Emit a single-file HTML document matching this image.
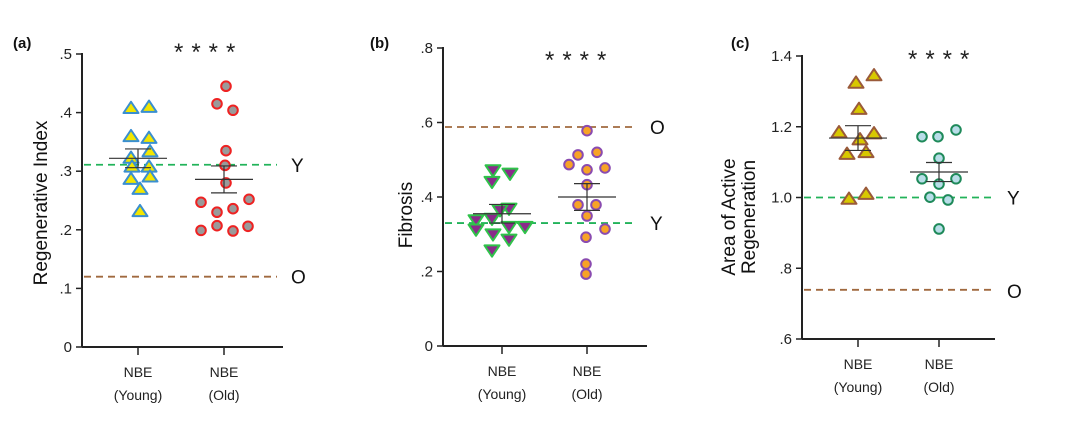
<!DOCTYPE html>
<html><head><meta charset="utf-8">
<style>
body{margin:0;background:#fff;}
svg{display:block;font-family:"Liberation Sans",sans-serif;}
</style></head>
<body>
<svg id="fig" width="1068" height="435" viewBox="0 0 1068 435"></svg>
<script>
// ---- Panel (a) data: Regenerative Index ----
const catsA = ["NBE|(Young)", "NBE|(Old)"];
const youngA = [.407,.409,.359,.356,.333,.322,.307,.307,.286,.290,.269,.231];
const youngAJit = [-7,11,-7,11,12,-7,-6,11,-7,12,2,2];
const oldA = [.445,.415,.404,.335,.310,.280,.247,.252,.230,.236,.207,.206,.199,.198];
const oldAJit = [2,-7,9,2,1,2,-23,25,-7,9,-7,24,-23,9];
const meanA = [.322,.286];
const semA = [.016,.023];
const refA = [.311,.12];
const ticksA = [0,.1,.2,.3,.4,.5];
const tickLabA = ["0",".1",".2",".3",".4",".5"];
// ---- Panel (b) data: Fibrosis ----
const youngB = [.473,.464,.442,.339,.343,.370,.314,.301,.321,.321,.287,.258,.366];
const youngBJit = [-9,8,-10,-26,-10,7,-26,-9,7,23,7,-10,-2];
const oldB = [.578,.513,.520,.487,.473,.478,.433,.379,.379,.349,.314,.292,.220,.193];
const oldBJit = [0,-9,10,-18,0,18,0,-9,9,0,18,-1,-1,-1];
const meanB = [.355,.400];
const semB = [.025,.036];
const refB = [.33,.588];
const ticksB = [0,.2,.4,.6,.8];
const tickLabB = ["0",".2",".4",".6",".8"];
// ---- Panel (c) data: Area of Active Regeneration ----
const youngC = [1.323,1.344,1.249,1.183,1.180,1.163,1.122,1.127,.995,1.009];
const youngCJit = [-2,16,1,-19,16,2,-11,8,-9,8];
const oldC = [1.172,1.172,1.191,1.111,1.053,1.053,1.038,1.001,.993,.911];
const oldCJit = [-17,-1,17,0,-17,17,0,-9,9,0];
const meanC = [1.168,1.072];
const semC = [.035,.027];
const refC = [1.0,.739];
const ticksC = [.6,.8,1.0,1.2,1.4];
const tickLabC = [".6",".8","1.0","1.2","1.4"];

const NS="http://www.w3.org/2000/svg";
const svg=document.getElementById('fig');
function mk(tag,attrs,parent,text){const e=document.createElementNS(NS,tag);for(const k in attrs)e.setAttribute(k,attrs[k]);if(text!==undefined)e.textContent=text;(parent||svg).appendChild(e);return e;}

function panel(P){
  const g=mk('g',{});
  
  
  const y=v=>P.y0+(v-P.vmin)/(P.vmax-P.vmin)*(P.y1-P.y0);
  const x=i=>P.cx[i];
  const ya=mk('line',{x1:P.ax,y1:P.y1-1,x2:P.ax,y2:P.y0,stroke:'#222','stroke-width':2},g);
  
  const xa=mk('line',{x1:P.ax,y1:P.y0,x2:P.axEnd,y2:P.y0,stroke:'#222','stroke-width':2},g);
  
  P.ticks.forEach((t,i)=>{
    mk('line',{x1:P.ax-6,y1:y(t),x2:P.ax,y2:y(t),stroke:'#222','stroke-width':1.5},g);
    const tl=mk('text',{x:P.ax-10,y:y(t)+5,'text-anchor':'end','font-size':15,fill:'#222'},g,P.tickLab[i]);
    
  });
  catsA.forEach((c,i)=>{
    mk('line',{x1:x(i),y1:P.y0,x2:x(i),y2:P.y0+8,stroke:'#222','stroke-width':1.5},g);
    const [a,b]=c.split('|');
    const t1=mk('text',{x:x(i),y:P.y0+30,'text-anchor':'middle','font-size':14,fill:'#222'},g,a);
    
    const t2=mk('text',{x:x(i),y:P.y0+53,'text-anchor':'middle','font-size':14,fill:'#222'},g,b);
    
  });
  const rY=mk('line',{x1:P.ax+2,y1:y(P.ref[0]),x2:P.refEnd,y2:y(P.ref[0]),stroke:'#22b35a','stroke-width':1.8,'stroke-dasharray':'7,5'},g);
  
  const rO=mk('line',{x1:P.ax+2,y1:y(P.ref[1]),x2:P.refEnd,y2:y(P.ref[1]),stroke:'#a0693f','stroke-width':1.8,'stroke-dasharray':'7,5'},g);
  
  const lY=mk('text',{x:P.refEnd+14,y:y(P.ref[0])+P.labOff[0],'font-size':19,fill:'#111'},g,'Y');
  
  const lO=mk('text',{x:P.refEnd+14,y:y(P.ref[1])+P.labOff[1],'font-size':19,fill:'#111'},g,'O');
  
  function tri(cx,cy,down,st){const s=7.5;const pts=down?[[cx-s,cy-s*0.6],[cx+s,cy-s*0.6],[cx,cy+s*0.9]]:[[cx-s,cy+s*0.6],[cx+s,cy+s*0.6],[cx,cy-s*0.9]];
    return mk('polygon',{points:pts.map(p=>p.join(',')).join(' '),fill:st.fill,stroke:st.stroke,'stroke-width':2,'stroke-linejoin':'round'},g);}
  P.young.forEach((v,i)=>{const m=tri(x(0)+P.youngJit[i],y(v),P.down,P.ys);
    });
  P.old.forEach((v,i)=>{const m=mk('circle',{cx:x(1)+P.oldJit[i],cy:y(v),r:4.8,fill:P.os.fill,stroke:P.os.stroke,'stroke-width':2},g);
    });
  [0,1].forEach(i=>{
    const ml=mk('line',{x1:x(i)-29,y1:y(P.mean[i]),x2:x(i)+29,y2:y(P.mean[i]),stroke:'#333','stroke-width':1.2},g);
    
    const hi=y(P.mean[i]+P.sem[i]),lo=y(P.mean[i]-P.sem[i]);
    const eb=mk('path',{d:`M${x(i)},${hi}V${lo}M${x(i)-13},${hi}H${x(i)+13}M${x(i)-13},${lo}H${x(i)+13}`,stroke:'#333','stroke-width':1.2,fill:'none'},g);
    
  });
  const st=mk('text',{x:P.starX,y:P.starY,'font-size':24,fill:'#222','letter-spacing':'8'},g,'****');
  
  const pl=mk('text',{x:P.plx,y:P.ply,'font-size':15,'font-weight':'bold',fill:'#111'},g,P.plabel);
  
  P.ylab.forEach((l,k)=>{const tx=P.ylx[k];
    const t=mk('text',{x:tx,y:P.yly,'text-anchor':'middle','font-size':19,fill:'#111',transform:`rotate(-90 ${tx} ${P.yly})`},g,l);
    });
}

panel({name:'panel-a-regenerative-index',ax:82,axEnd:283,y0:347,y1:54,vmin:0,vmax:.5,cx:[138,224],
  ticks:ticksA,tickLab:tickLabA,ref:refA,refEnd:277,labOff:[7,7],young:youngA,youngJit:youngAJit,old:oldA,oldJit:oldAJit,
  mean:meanA,sem:semA,down:false,ys:{fill:'#f2e600',stroke:'#3a8fd0'},os:{fill:'#9a9a9a',stroke:'#ee2222'},
  starX:174,starY:60,plabel:'(a)',plx:13,ply:48,ylab:['Regenerative Index'],ylx:[47],yly:203});
panel({name:'panel-b-fibrosis',ax:443,axEnd:647,y0:346,y1:48,vmin:0,vmax:.8,cx:[502,587],
  ticks:ticksB,tickLab:tickLabB,ref:refB,refEnd:636,labOff:[7,7],young:youngB,youngJit:youngBJit,old:oldB,oldJit:oldBJit,
  mean:meanB,sem:semB,down:true,ys:{fill:'#8a2a8a',stroke:'#2fc24a'},os:{fill:'#f7a326',stroke:'#8a4bb0'},
  starX:545,starY:68,plabel:'(b)',plx:370,ply:48,ylab:['Fibrosis'],ylx:[412],yly:215});
panel({name:'panel-c-active-regeneration',ax:802,axEnd:995,y0:339,y1:56,vmin:.6,vmax:1.4,cx:[858,939],
  ticks:ticksC,tickLab:tickLabC,ref:refC,refEnd:993,labOff:[7,8],young:youngC,youngJit:youngCJit,old:oldC,oldJit:oldCJit,
  mean:meanC,sem:semC,down:false,ys:{fill:'#d8c800',stroke:'#9a5a3a'},os:{fill:'#b8dde8',stroke:'#1f8a5a'},
  starX:908,starY:67,plabel:'(c)',plx:731,ply:48,ylab:['Area of Active','Regeneration'],ylx:[735,755],yly:217});
</script>
</body></html>
